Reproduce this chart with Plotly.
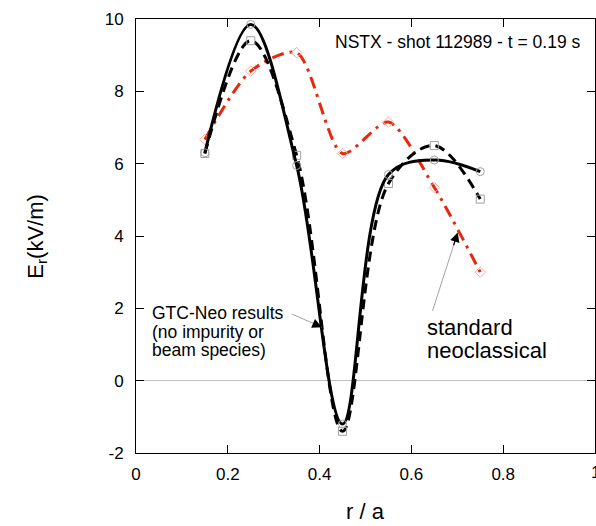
import plotly.graph_objects as go

r_pts = [0.15, 0.25, 0.35, 0.45, 0.55, 0.65, 0.75]
gtc_solid = [6.3, 9.85, 5.95, -1.2, 5.7, 6.1, 5.78]
gtc_dashed = [6.28, 9.4, 6.23, -1.4, 5.45, 6.5, 5.02]
std_neo = [6.67, 8.56, 9.07, 6.28, 7.15, 5.34, 3.0]

x_tickvals = [0, 0.2, 0.4, 0.6, 0.8, 1]
x_ticktext = ["0", "0.2", "0.4", "0.6", "0.8", "1"]
y_tickvals = [-2, 0, 2, 4, 6, 8, 10]
y_ticktext = ["-2", "0", "2", "4", "6", "8", "10"]

FONT = "Liberation Sans, Arial, Helvetica, sans-serif"
RED = "rgb(232,38,12)"

fig = go.Figure()

fig.add_trace(go.Scatter(x=r_pts, y=std_neo, mode="lines+markers",
    line=dict(color=RED, width=3, dash="12px,6px,3px,6px", shape="spline", smoothing=0.75),
    marker=dict(symbol="diamond-open", size=8, color="rgb(245,170,165)", line=dict(width=1)),
    showlegend=False))
fig.add_trace(go.Scatter(x=r_pts, y=gtc_dashed, mode="lines+markers",
    line=dict(color="black", width=3, dash="10px,6px", shape="spline", smoothing=1),
    marker=dict(symbol="square-open", size=8, color="rgb(160,160,160)", line=dict(width=1)),
    showlegend=False))
fig.add_trace(go.Scatter(x=r_pts, y=gtc_solid, mode="lines+markers",
    line=dict(color="black", width=3, shape="spline", smoothing=1),
    marker=dict(symbol="circle-open", size=8, color="rgb(160,160,160)", line=dict(width=1)),
    showlegend=False))

ann = []
ann.append(dict(x=0.701, y=9.36, xref="x", yref="y", text="NSTX - shot 112989 - t = 0.19 s",
                showarrow=False, xanchor="center", yanchor="middle", font=dict(size=17.5)))
for t, yy in [("GTC-Neo results", 1.864), ("(no impurity or", 1.352), ("beam species)", 0.84)]:
    ann.append(dict(x=0.0315, y=yy, xref="x", yref="y", text=t, showarrow=False,
                    xanchor="left", yanchor="middle", font=dict(size=17.5)))
for t, yy in [("standard", 1.476), ("neoclassical", 0.84)]:
    ann.append(dict(x=0.629, y=yy, xref="x", yref="y", text=t, showarrow=False,
                    xanchor="left", yanchor="middle", font=dict(size=22)))
for (tx, ty, hx, hy) in [(0.336, 1.86, 0.405, 1.48), (0.645, 1.89, 0.701, 4.10)]:
    ann.append(dict(x=hx, y=hy, ax=tx, ay=ty, xref="x", yref="y", axref="x", ayref="y",
                    text="", showarrow=True, arrowhead=0, arrowwidth=0.8,
                    arrowcolor="rgb(140,140,140)"))
    fx = hx - (hx - tx) * 0.18
    fy = hy - (hy - ty) * 0.18
    ann.append(dict(x=hx, y=hy, ax=fx, ay=fy, xref="x", yref="y", axref="x", ayref="y",
                    text="", showarrow=True, arrowhead=2, arrowsize=1.6, arrowwidth=1.2,
                    arrowcolor="black", standoff=0))
# last x tick label (partly cut by page edge, as in the reference)
ann.append(dict(x=x_tickvals[-1], y=(453 - 472) / 434, xref="x", yref="paper",
                text=x_ticktext[-1], showarrow=False, xanchor="center", yanchor="middle",
                font=dict(size=17)))
ann.append(dict(x=(36 - 135.5) / 460, y=0.5, xref="paper", yref="paper",
                text="E<sub>r</sub>(kV/m)", showarrow=False, textangle=-90,
                xanchor="center", yanchor="middle", font=dict(size=22)))
ann.append(dict(x=0.5, y=(453 - 512) / 434, xref="paper", yref="paper", text="r / a",
                showarrow=False, xanchor="center", yanchor="middle", font=dict(size=22)))

axis_common = dict(showline=True, linecolor="black", linewidth=1, mirror="ticks",
                   ticks="inside", ticklen=8, tickwidth=1, tickcolor="black",
                   showgrid=False, tickfont=dict(size=17, color="black"))

fig.update_layout(
    width=596, height=526,
    margin=dict(l=135.5, r=1, t=19, b=73),
    paper_bgcolor="white", plot_bgcolor="white",
    font=dict(family=FONT, color="black"),
    xaxis=dict(range=[0, 1], tickvals=x_tickvals,
               ticktext=x_ticktext[:-1] + [""],
               zeroline=False, ticklabelstandoff=6, **axis_common),
    yaxis=dict(range=[-2, 10], tickvals=y_tickvals, ticktext=y_ticktext,
               zeroline=True, zerolinecolor="rgb(190,190,190)", zerolinewidth=1,
               ticklabelstandoff=8, **axis_common),
    annotations=ann,
)

fig.write_html("out.html")
